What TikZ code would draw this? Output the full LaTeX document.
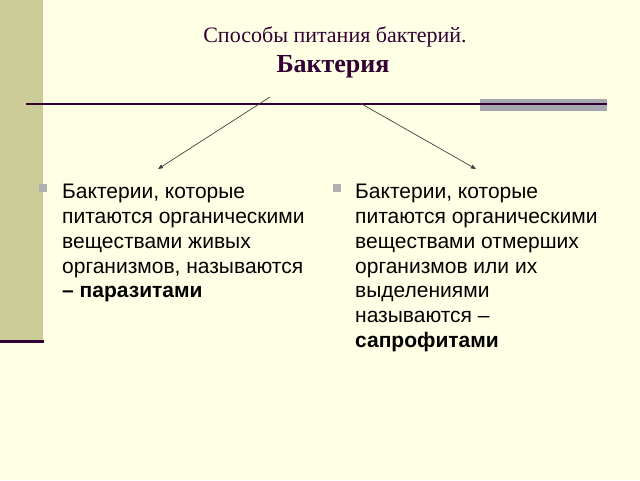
\documentclass[tikz,border=0pt]{standalone}
\usepackage{fontspec}
\setmainfont{Liberation Sans}
\newfontfamily\titlefont{Liberation Serif}
\usetikzlibrary{arrows.meta}
\definecolor{slidebg}{HTML}{FFFFE5}
\definecolor{stripe}{HTML}{CCCC99}
\definecolor{plum}{HTML}{330033}
\definecolor{bargray}{HTML}{A6A6B0}
\definecolor{bulletgray}{HTML}{B0B0B0}

\begin{document}
\begin{tikzpicture}[x=1pt,y=-1pt]
			\tikzstyle{every node}=[inner sep=0pt]
			\tikzstyle{bodytext}=[anchor=north west,align=left,font=\fontsize{21}{24.8}\selectfont]
			\tikzstyle{bullet}=[fill=bulletgray,minimum size=8pt]
			\tikzstyle{link}=[draw=black!75,line width=0.7pt,-{Triangle[length=5pt,width=4pt]}]
			
			% slide background
			\fill[slidebg] (0,0) rectangle (640,480);
			\useasboundingbox (0,0) rectangle (640,480);
			\fill[stripe] (0,0) rectangle (43,341);
			\draw[plum,line width=3pt] (0,341) -- (44,341);
			
			% heading
			\node[font=\titlefont\fontsize{22}{25}\selectfont,text=plum] (title) at (335,37) {Способы питания бактерий.};
			\node[font=\titlefont\fontsize{26}{30}\selectfont\bfseries,text=plum] (bact) at (333,67) {Бактерия};
			
			\fill[bargray] (480,99) rectangle (607,111);
			\draw[plum,line width=1.5pt] (26,104) -- (607,104);
			
			% two groups
			\node[bullet] (b1) at (43,188) {};
			\node[bullet] (b2) at (337,188) {};
			\node[bodytext] (parasites) at (62,184) {Бактерии, которые\\питаются органическими\\веществами живых\\организмов, называются\\\textbf{– паразитами}};
			\node[bodytext] (saprophytes) at (355,184) {Бактерии, которые\\питаются органическими\\веществами отмерших\\организмов или их\\выделениями\\называются –\\\textbf{сапрофитами}};
			
			\coordinate (fromL) at (270,97);
			\coordinate (fromR) at (360,103);
			\coordinate (toL) at (158,169);
			\coordinate (toR) at (476,169);
			\draw[link] (fromL) -- (toL);
			\draw[link] (fromR) -- (toR);
			
\end{tikzpicture}
\end{document}
